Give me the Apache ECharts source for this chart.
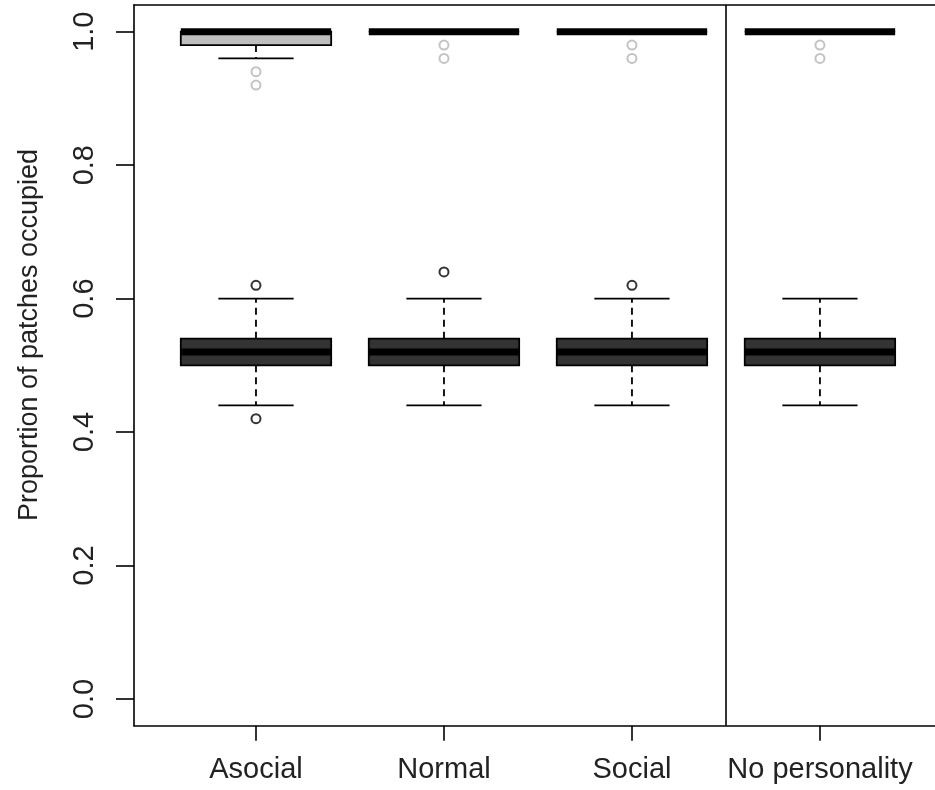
<!DOCTYPE html>
<html>
<head>
<meta charset="utf-8">
<script src="https://cdn.jsdelivr.net/npm/echarts@6/dist/echarts.min.js"></script>
<style>
html,body{margin:0;padding:0;background:#fff;}
#chart{width:935px;height:790px;}
</style>
</head>
<body>
<div id="chart"></div>
<script>
// ---- data ----
const categories = ['Asocial', 'Normal', 'Social', 'No personality'];
const categoryX = [1, 2, 3, 4];
// boxplot stats: [lower whisker, Q1, median, Q3, upper whisker]
const highStats = [
  [0.96, 0.98, 1.00, 1.00, 1.00],
  [1.00, 1.00, 1.00, 1.00, 1.00],
  [1.00, 1.00, 1.00, 1.00, 1.00],
  [1.00, 1.00, 1.00, 1.00, 1.00]
];
const highOutliers = [
  [0.94, 0.92],
  [0.98, 0.96],
  [0.98, 0.96],
  [0.98, 0.96]
];
const lowStats = [
  [0.44, 0.50, 0.52, 0.54, 0.60],
  [0.44, 0.50, 0.52, 0.54, 0.60],
  [0.44, 0.50, 0.52, 0.54, 0.60],
  [0.44, 0.50, 0.52, 0.54, 0.60]
];
const lowOutliers = [
  [0.62, 0.42],
  [0.64],
  [0.62],
  []
];
const yTicks = [0, 0.2, 0.4, 0.6, 0.8, 1.0];
const separatorX = 3.5;
const yTitle = 'Proportion of patches occupied';

// ---- helpers ----
const FONT = "'Liberation Sans', Arial, sans-serif";
function boxData(stats) {
  return stats.map((s, i) => [categoryX[i]].concat(s));
}
function outlierData(outs) {
  const d = [];
  outs.forEach((arr, i) => arr.forEach(v => d.push([categoryX[i], v])));
  return d;
}
function makeRender(fill) {
  return function (params, api) {
    const x = api.value(0);
    const lo = api.value(1), q1 = api.value(2), med = api.value(3), q3 = api.value(4), hi = api.value(5);
    const halfW = api.size([0.8, 0])[0] / 2;
    const capHalf = halfW / 2;
    const pQ1 = api.coord([x, q1]);
    const pQ3 = api.coord([x, q3]);
    const pMed = api.coord([x, med]);
    const pLo = api.coord([x, lo]);
    const pHi = api.coord([x, hi]);
    const cx = pMed[0];
    const children = [];
    const wStyle = { stroke: '#000', lineWidth: 1.8, lineDash: [7, 5] };
    const sStyle = { stroke: '#000', lineWidth: 1.8 };
    if (hi > q3) {
      children.push({ type: 'line', shape: { x1: cx, y1: pQ3[1], x2: cx, y2: pHi[1] }, style: wStyle });
    }
    children.push({ type: 'line', shape: { x1: cx - capHalf, y1: pHi[1], x2: cx + capHalf, y2: pHi[1] }, style: sStyle });
    if (lo < q1) {
      children.push({ type: 'line', shape: { x1: cx, y1: pQ1[1], x2: cx, y2: pLo[1] }, style: wStyle });
    }
    children.push({ type: 'line', shape: { x1: cx - capHalf, y1: pLo[1], x2: cx + capHalf, y2: pLo[1] }, style: sStyle });
    children.push({
      type: 'rect',
      shape: { x: cx - halfW, y: pQ3[1], width: halfW * 2, height: pQ1[1] - pQ3[1] },
      style: { fill: fill, stroke: '#000', lineWidth: 1.8 }
    });
    children.push({ type: 'line', shape: { x1: cx - halfW, y1: pMed[1], x2: cx + halfW, y2: pMed[1] }, style: { stroke: '#000', lineWidth: 7 } });
    return { type: 'group', children: children };
  };
}

const chart = echarts.init(document.getElementById('chart'), null, { renderer: 'canvas' });
const option = {
  animation: false,
  backgroundColor: '#fff',
  grid: { left: 134, top: 5, right: 0, bottom: 64.3, show: false },
  xAxis: [
    {
      type: 'value',
      position: 'bottom',
      min: 0.3511, max: 4.612,
      splitLine: { show: false },
      axisLine: { show: true, onZero: false, lineStyle: { color: '#000', width: 1.6 } },
      axisTick: { show: true, customValues: categoryX, length: 15, lineStyle: { color: '#000', width: 1.6 } },
      axisLabel: {
        customValues: categoryX,
        formatter: v => categories[categoryX.indexOf(Math.round(v))] || '',
        fontSize: 29, fontFamily: FONT, color: '#222', margin: 30
      }
    },
    {
      type: 'value',
      position: 'top',
      min: 0.3511, max: 4.612,
      splitLine: { show: false },
      axisLine: { show: true, onZero: false, lineStyle: { color: '#000', width: 1.6 } },
      axisTick: { show: false },
      axisLabel: { show: false }
    }
  ],
  yAxis: {
    type: 'value',
    min: -0.04, max: 1.04,
    splitLine: { show: false },
    axisLine: { show: true, onZero: false, lineStyle: { color: '#000', width: 1.6 } },
    axisTick: { show: true, customValues: yTicks, length: 18, lineStyle: { color: '#000', width: 1.6 } },
    axisLabel: {
      customValues: yTicks,
      rotate: 90,
      formatter: v => v.toFixed(1),
      fontSize: 29, fontFamily: FONT, color: '#222', margin: 35
    }
  },
  graphic: [
    {
      type: 'text',
      x: 30, y: 335,
      rotation: Math.PI / 2,
      style: {
        text: yTitle,
        fontSize: 27, fontFamily: FONT, fill: '#222',
        align: 'center', verticalAlign: 'middle'
      }
    }
  ],
  series: [
    {
      type: 'custom',
      name: 'high',
      renderItem: makeRender('#bebebe'),
      encode: { x: 0, y: [1, 2, 3, 4, 5] },
      data: boxData(highStats),
      z: 3,
      markLine: {
        silent: true,
        symbol: ['none', 'none'],
        label: { show: false },
        lineStyle: { color: '#000', width: 1.6, type: 'solid' },
        data: [{ xAxis: separatorX }]
      }
    },
    {
      type: 'custom',
      name: 'low',
      renderItem: makeRender('#333333'),
      encode: { x: 0, y: [1, 2, 3, 4, 5] },
      data: boxData(lowStats),
      z: 3
    },
    {
      type: 'scatter',
      symbol: 'emptyCircle',
      symbolSize: 9,
      itemStyle: { color: '#b4b4b4', borderWidth: 1.6 },
      data: outlierData(highOutliers),
      z: 4
    },
    {
      type: 'scatter',
      symbol: 'emptyCircle',
      symbolSize: 9,
      itemStyle: { color: '#000', borderWidth: 1.6 },
      data: outlierData(lowOutliers),
      z: 4
    }
  ]
};
chart.setOption(option);
</script>
</body>
</html>
